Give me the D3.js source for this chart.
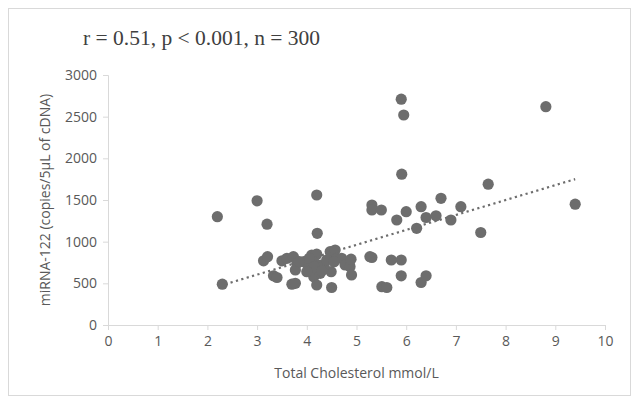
<!DOCTYPE html>
<html>
<head>
<meta charset="utf-8">
<script src="https://cdn.jsdelivr.net/npm/d3@7"></script>
<style>
  html, body { margin: 0; padding: 0; background: #fff; }
  svg { display: block; }
</style>
</head>
<body>
<div id="chart"></div>
<script>
// Total cholesterol (mmol/L) vs miRNA-122 copies
const cholesterol = [
  2.2, 2.3, 3.0, 3.2, 3.13, 3.21, 3.33, 3.4, 3.5, 3.6, 3.7, 3.77, 3.73, 3.8, 3.77,
  3.94, 4.0, 4.1, 4.2, 4.14, 4.27, 4.1, 4.14, 4.27, 4.2, 4.21, 4.2, 4.49, 4.5, 4.47,
  4.57, 4.6, 4.7, 4.77, 4.87, 4.89, 4.9, 5.27, 4.05, 4.35, 4.4, 4.55, 4.15, 3.85, 4.0,
  4.3, 5.31, 5.31, 5.5, 5.81, 6.0, 6.3, 6.7, 6.21, 6.4, 6.6, 6.9, 7.1, 7.5, 7.65,
  5.91, 5.9, 5.95, 8.81, 9.4, 5.31, 5.7, 5.9, 5.9, 5.51, 5.61, 6.3, 6.4
];
const mirna = [
  1300, 490, 1490, 1210, 770, 820, 590, 570, 770, 800, 490, 500, 820, 740, 660,
  760, 740, 840, 850, 760, 720, 660, 580, 620, 480, 1100, 1560, 640, 450, 880,
  900, 800, 800, 720, 700, 790, 600, 820, 800, 700, 780, 760, 700, 760, 640,
  650, 1440, 1380, 1380, 1260, 1360, 1420, 1520, 1160, 1290, 1310, 1260, 1420, 1110, 1690,
  1810, 2710, 2520, 2620, 1450, 810, 780, 780, 590, 460, 450, 510, 590
];
// dotted linear trend line end points
const trendX = [2.25, 9.4];
const trendY = [470, 1750];

const xTicks = [0, 1, 2, 3, 4, 5, 6, 7, 8, 9, 10];
const yTicks = [0, 500, 1000, 1500, 2000, 2500, 3000];
const title = "r = 0.51, p < 0.001, n = 300";
const xTitle = "Total Cholesterol mmol/L";
const yTitle = "miRNA-122 (copies/5\u00B5L of cDNA)";

const W = 639, H = 401;
const FONT = "'Open Sans', 'Liberation Sans', sans-serif";
const AXIS = "#d9d9d9";
const TEXT = "#595959";
const DOT = "#6d6d6d";

const svg = d3.select("#chart").append("svg")
  .attr("width", W).attr("height", H);

// chart frame
svg.append("rect")
  .attr("x", 8.5).attr("y", 8.5)
  .attr("width", 622).attr("height", 387)
  .attr("fill", "#fff").attr("stroke", "#d9d9d9");

const x = d3.scaleLinear().domain([0, 10]).range([108, 605]);
const y = d3.scaleLinear().domain([0, 3000]).range([325, 75]);

// axes
const xAxis = svg.append("g")
  .attr("transform", `translate(0,${y(0)})`)
  .call(d3.axisBottom(x).tickValues(xTicks).tickFormat(d3.format("d")).tickSize(5).tickPadding(6));
const yAxis = svg.append("g")
  .attr("transform", `translate(${x(0)},0)`)
  .call(d3.axisLeft(y).tickValues(yTicks).tickFormat(d3.format("d")).tickSize(5).tickPadding(6));

[xAxis, yAxis].forEach((a) => {
  a.select(".domain").attr("stroke", AXIS);
  a.selectAll(".tick line").attr("stroke", AXIS);
  a.selectAll(".tick text")
    .attr("fill", TEXT)
    .style("font", `14px ${FONT}`);
});

// trend line (dotted)
svg.append("line")
  .attr("x1", x(trendX[0])).attr("y1", y(trendY[0]))
  .attr("x2", x(trendX[1])).attr("y2", y(trendY[1]))
  .attr("stroke", DOT)
  .attr("stroke-width", 2.2)
  .attr("stroke-dasharray", "2.2,3.4");

// points
svg.append("g")
  .selectAll("circle")
  .data(cholesterol.map((c, i) => [c, mirna[i]]))
  .join("circle")
  .attr("cx", (d) => x(d[0]))
  .attr("cy", (d) => y(d[1]))
  .attr("r", 5.6)
  .attr("fill", DOT);

// titles
svg.append("text")
  .attr("x", 83).attr("y", 45)
  .attr("fill", "#404040")
  .style("font", "21.5px 'Liberation Serif', 'Times New Roman', serif")
  .text(title);

svg.append("text")
  .attr("x", (x(0) + x(10)) / 2).attr("y", 378)
  .attr("text-anchor", "middle")
  .attr("fill", TEXT)
  .style("font", `14px ${FONT}`)
  .text(xTitle);

svg.append("text")
  .attr("transform", `translate(50,${(y(0) + y(3000)) / 2}) rotate(-90)`)
  .attr("text-anchor", "middle")
  .attr("fill", TEXT)
  .style("font", `14px ${FONT}`)
  .text(yTitle);
</script>
</body>
</html>
